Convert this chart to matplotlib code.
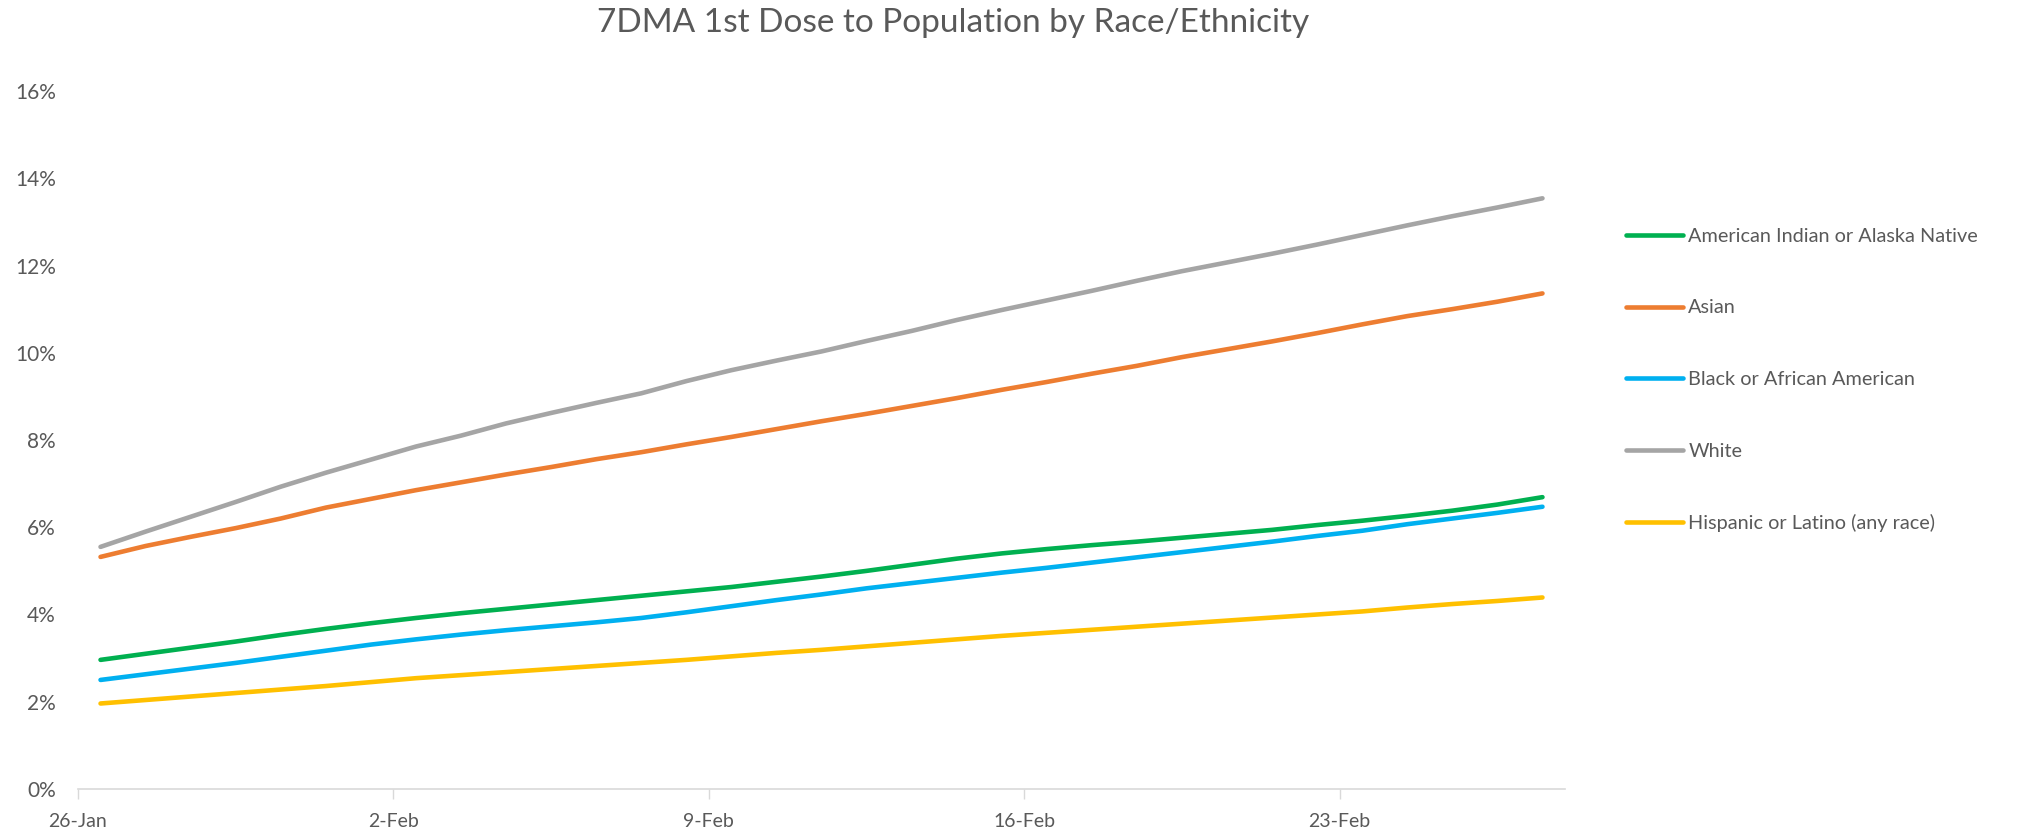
import matplotlib.pyplot as plt
import numpy as np

# one value per day, 26-Jan .. 27-Feb (percent)
days = np.arange(33)
aian = [2.96, 3.10, 3.24, 3.38, 3.53, 3.67, 3.80, 3.92, 4.03, 4.13, 4.23,
        4.33, 4.43, 4.53, 4.63, 4.75, 4.87, 5.00, 5.14, 5.28, 5.40, 5.50,
        5.59, 5.67, 5.76, 5.85, 5.94, 6.05, 6.15, 6.26, 6.38, 6.52, 6.69]
asian = [5.32, 5.57, 5.78, 5.98, 6.20, 6.45, 6.65, 6.85, 7.03, 7.21, 7.38,
         7.56, 7.72, 7.90, 8.07, 8.25, 8.43, 8.60, 8.78, 8.96, 9.15, 9.33,
         9.52, 9.70, 9.90, 10.08, 10.26, 10.45, 10.65, 10.84, 11.00, 11.17, 11.36]
black = [2.50, 2.63, 2.76, 2.89, 3.03, 3.17, 3.31, 3.43, 3.54, 3.64, 3.73,
         3.82, 3.92, 4.05, 4.19, 4.33, 4.46, 4.60, 4.72, 4.84, 4.96, 5.07,
         5.19, 5.31, 5.43, 5.55, 5.67, 5.80, 5.92, 6.07, 6.20, 6.33, 6.47]
white = [5.55, 5.90, 6.24, 6.58, 6.93, 7.25, 7.55, 7.85, 8.10, 8.38, 8.62,
         8.85, 9.07, 9.35, 9.60, 9.82, 10.03, 10.27, 10.50, 10.75, 10.98, 11.20,
         11.42, 11.65, 11.87, 12.07, 12.27, 12.48, 12.70, 12.92, 13.13, 13.33, 13.54]
hispanic = [1.96, 2.04, 2.12, 2.20, 2.28, 2.36, 2.45, 2.54, 2.61, 2.68, 2.75,
            2.82, 2.89, 2.96, 3.04, 3.12, 3.19, 3.27, 3.35, 3.43, 3.51, 3.58,
            3.65, 3.72, 3.79, 3.86, 3.93, 4.00, 4.07, 4.16, 4.24, 4.31, 4.39]

names = ["American Indian or Alaska Native", "Asian", "Black or African American",
         "White", "Hispanic or Latino (any race)"]
colors = ["#00B050", "#ED7D31", "#00B0F0", "#A5A5A5", "#FFC000"]
tick_labels = ["26-Jan", "2-Feb", "9-Feb", "16-Feb", "23-Feb"]
yticks = np.arange(0, 17, 2)

plt.rcParams['font.family'] = ['Lato', 'DejaVu Sans']

fig = plt.figure(figsize=(20.34, 8.33), dpi=100)
ax = fig.add_axes([78 / 2034, 1 - 789 / 833, (1565 - 78) / 2034, (789 - 91) / 833])

for name, vals, c in zip(names, [aian, asian, black, white, hispanic], colors):
    ax.plot(days, vals, color=c, lw=3.3, solid_capstyle='round', label=name)

ax.set_xlim(-0.5, 32.5)
ax.set_ylim(0, 16)
ax.set_xticks(np.arange(-0.5, 28, 7))
ax.set_xticklabels(tick_labels)
ax.set_yticks(yticks)
ax.set_yticklabels([f"{v}%" for v in yticks])

for s in ['top', 'right', 'left']:
    ax.spines[s].set_visible(False)
ax.spines['bottom'].set_color('#D9D9D9')
ax.spines['bottom'].set_linewidth(1.2)
ax.tick_params(axis='x', colors='#D9D9D9', length=7, width=1, labelcolor='#595959',
               labelsize=14, pad=10)
ax.tick_params(axis='y', length=0, labelcolor='#595959', labelsize=15, pad=16)

fig.text(953 / 2034, 1 - 23 / 833, "7DMA 1st Dose to Population by Race/Ethnicity",
         ha='center', va='center', fontsize=24, color='#595959')

fig.legend(loc='upper left', bbox_to_anchor=(1608 / 2034, 1 - 210 / 833), frameon=False,
           fontsize=14.3, labelcolor='#595959', handlelength=2.9, handletextpad=0.25,
           labelspacing=2.75)

fig.savefig('out.png', dpi=100)
